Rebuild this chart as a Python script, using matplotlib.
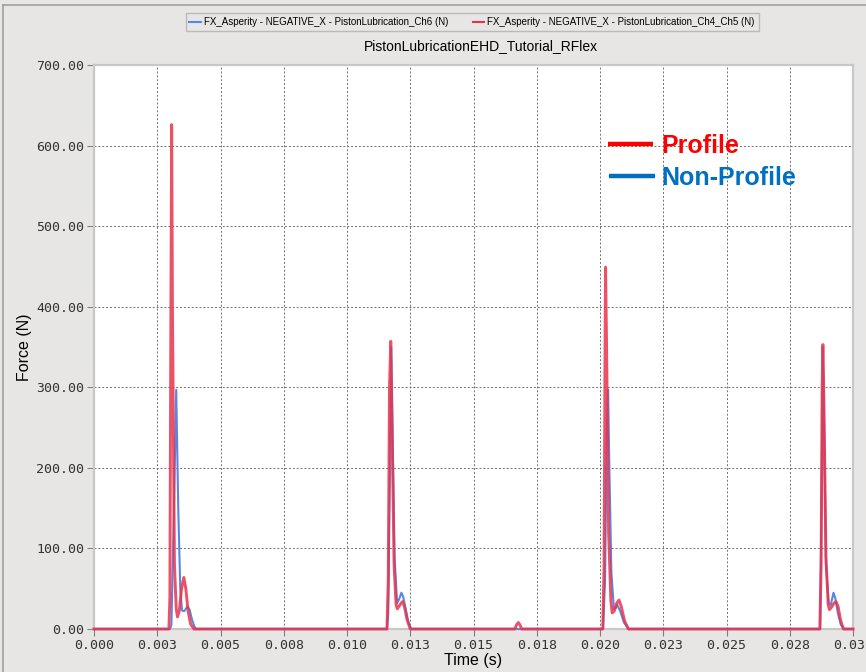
import numpy as np
import matplotlib.pyplot as plt
from matplotlib.lines import Line2D

# FX_Asperity - Ch6 (non-profile), blue
t_ch6 = [0.0, 0.00300, 0.00306, 0.00316, 0.00325, 0.00333, 0.00341, 0.00348,
         0.00356, 0.00363, 0.00370, 0.00378, 0.00387, 0.00397, 0.00403,
         0.01158, 0.01163, 0.01170, 0.01175, 0.01180, 0.01188, 0.01198,
         0.01206, 0.01215, 0.01222, 0.01232, 0.01243, 0.01254,
         0.02012, 0.02020, 0.02027, 0.02032, 0.02037, 0.02045, 0.02055,
         0.02062, 0.02068, 0.02080, 0.02095, 0.02113,
         0.02870, 0.02877, 0.02881, 0.02886, 0.02893, 0.02904, 0.02912,
         0.02923, 0.02930, 0.02940, 0.02952, 0.02965, 0.03000]
f_ch6 = [0, 0, 5, 150, 297, 150, 50, 23,
         22, 25, 28, 24, 12, 3, 0,
         0, 20, 200, 350, 250, 90, 32,
         37, 45, 40, 25, 8, 0,
         0, 60, 250, 297, 200, 70, 25,
         26, 30, 22, 8, 0,
         0, 200, 350, 250, 80, 32, 30,
         45, 38, 20, 5, 0, 0]

# FX_Asperity - Ch4_Ch5 (profile), red
t_ch45 = [0.0, 0.00296, 0.00300, 0.00304, 0.00307, 0.00310, 0.00318, 0.00325,
          0.00330, 0.00337, 0.00346, 0.00355, 0.00363, 0.00372, 0.00382, 0.00395,
          0.01158, 0.01163, 0.01168, 0.01173, 0.01178, 0.01186, 0.01194,
          0.01199, 0.01207, 0.01219, 0.01227, 0.01237, 0.01250,
          0.01663, 0.01670, 0.01677, 0.01684, 0.01690,
          0.02011, 0.02016, 0.02020, 0.02022, 0.02026, 0.02034, 0.02043,
          0.02048, 0.02056, 0.02066, 0.02075, 0.02084, 0.02097, 0.02112,
          0.02869, 0.02874, 0.02878, 0.02881, 0.02885, 0.02893, 0.02902,
          0.02907, 0.02915, 0.02925, 0.02933, 0.02941, 0.02950, 0.02962, 0.03000]
f_ch45 = [0, 0, 40, 400, 626, 400, 80, 25,
          15, 22, 50, 64, 50, 22, 6, 0,
          0, 60, 300, 357, 250, 80, 30,
          25, 29, 34, 28, 12, 0,
          0, 5, 8, 5, 0,
          0, 80, 350, 449, 350, 120, 35,
          20, 22, 32, 36, 28, 10, 0,
          0, 80, 300, 353, 280, 90, 30,
          24, 27, 32, 34, 28, 12, 0, 0]

xtick_labels = ['0.000', '0.003', '0.005', '0.008', '0.010', '0.013', '0.015',
                '0.018', '0.020', '0.023', '0.025', '0.028', '0.030']
ytick_values = [0, 100, 200, 300, 400, 500, 600, 700]

bg = '#e7e6e5'
fig = plt.figure(figsize=(8.66, 6.72), dpi=100, facecolor=bg)
ax = fig.add_axes([94/866, 43/672, 759/866, 564/672])
ax.set_facecolor('white')

# outer panel frame
fig.add_artist(Line2D([3/866, 1], [667/672, 667/672], color='#a0a0a0', lw=1.2))
fig.add_artist(Line2D([3/866, 3/866], [0, 667/672], color='#a0a0a0', lw=1.2))

l1, = ax.plot(t_ch6, f_ch6, color='#5b86e0', lw=1.5, zorder=3, clip_on=False,
              label='FX_Asperity - NEGATIVE_X - PistonLubrication_Ch6 (N)')
l2, = ax.plot(t_ch45, f_ch45, color='#e8334c', lw=2.1, alpha=0.85, zorder=4, clip_on=False,
              label='FX_Asperity - NEGATIVE_X - PistonLubrication_Ch4_Ch5 (N)')

ax.set_xlim(0, 0.030)
ax.set_ylim(0, 700)
ax.set_xticks(np.linspace(0, 0.030, len(xtick_labels)))
ax.set_xticklabels(xtick_labels)
ax.set_yticks(ytick_values)
ax.set_yticklabels(['%.2f' % v for v in ytick_values])
for lab in ax.get_xticklabels() + ax.get_yticklabels():
    lab.set_family('DejaVu Sans Mono')
    lab.set_fontsize(9.5)
    lab.set_color('#333333')
ax.tick_params(length=5, width=0.8, color='#808080', pad=2)

ax.grid(True, color='#707070', lw=0.7, ls=(0, (2, 2)))
for s in ax.spines.values():
    s.set_color('#c8c8c8')
    s.set_linewidth(1.6)

ax.set_xlabel('Time (s)', family='Liberation Sans', fontsize=11.5)
ax.set_ylabel('Force (N)', family='Liberation Sans', fontsize=11.5)
ax.yaxis.set_label_coords(-0.082, 0.5)
ax.xaxis.set_label_coords(0.5, -0.042)

fig.text(481/866, 1 - 46/672, 'PistonLubricationEHD_Tutorial_RFlex',
         family='Liberation Sans', fontsize=10, ha='center', va='center')

leg = fig.legend(handles=[l1, l2], loc='center', bbox_to_anchor=(472/866, 1 - 22/672),
                 ncol=2, prop={'family': 'Liberation Sans', 'size': 7},
                 handlelength=1.2, handletextpad=0.3, columnspacing=2.5,
                 frameon=True, fancybox=False, edgecolor='#b0b0b0', facecolor=bg,
                 borderpad=0.4)
for h in leg.get_lines():
    h.set_linewidth(1.5)
    h.set_alpha(1)

# annotation legend
ax.plot([0.677, 0.7365], [0.8600, 0.8600], transform=ax.transAxes, color='#ff0000',
        lw=3.2, zorder=6, solid_capstyle='butt')
ax.plot([0.679, 0.7385], [0.8032, 0.8032], transform=ax.transAxes, color='#0070c0',
        lw=3.2, zorder=6, solid_capstyle='butt')
ax.text(0.748, 0.844, 'Profile', transform=ax.transAxes, color='#ff0000',
        family='Liberation Sans', weight='bold', fontsize=18, va='baseline', zorder=6)
ax.text(0.748, 0.787, 'Non-Profile', transform=ax.transAxes, color='#0070c0',
        family='Liberation Sans', weight='bold', fontsize=18, va='baseline', zorder=6)

fig.savefig('out.png', dpi=100, facecolor=bg)
